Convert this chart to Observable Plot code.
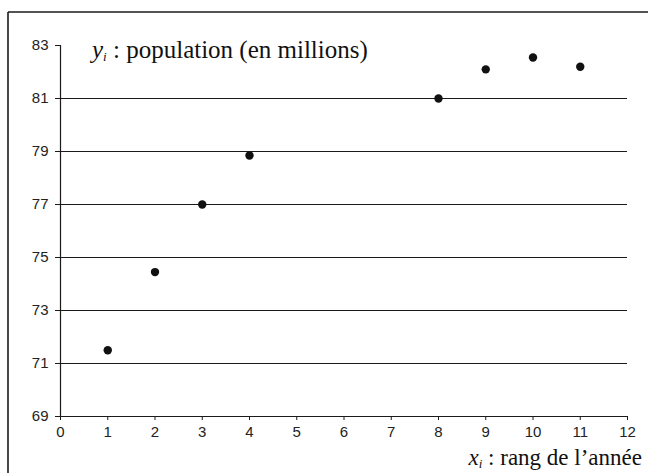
<!DOCTYPE html>
<html><head><meta charset="utf-8">
<script src="https://cdn.jsdelivr.net/npm/d3@7"></script>
<script src="https://cdn.jsdelivr.net/npm/@observablehq/plot@0.6"></script>
<style>body{margin:0;background:#fff}</style>
</head><body><div id="chart"></div>
<script>
const years = [1, 2, 3, 4, 8, 9, 10, 11];
const population = [71.5, 74.45, 77.0, 78.85, 81.0, 82.1, 82.55, 82.2];
const xTicks = [0, 1, 2, 3, 4, 5, 6, 7, 8, 9, 10, 11, 12];
const yTicks = [69, 71, 73, 75, 77, 79, 81, 83];
const gridValues = [71, 73, 75, 77, 79, 81];
const yVar = "y", xVar = "x", sub = "i";
const yLabel = " : population (en millions)";
const xLabel = " : rang de l\u2019ann\u00e9e";

const data = years.map((x, i) => ({x, y: population[i]}));

const chart = Plot.plot({
  width: 648, height: 473,
  marginLeft: 60, marginRight: 21, marginTop: 45, marginBottom: 57,
  x: {domain: [0, 12]},
  y: {domain: [69, 83]},
  style: {fontFamily: "'Liberation Sans', Arial, sans-serif", fontSize: "15px", color: "#222", background: "#fff"},
  marks: [
    Plot.ruleY(gridValues, {stroke: "#1a1a1a", strokeWidth: 1.2}),
    Plot.ruleY([69], {stroke: "#1a1a1a", strokeWidth: 1.2}),
    Plot.ruleX([0], {stroke: "#1a1a1a", strokeWidth: 1.2}),
    Plot.axisX({ticks: xTicks, tickSize: 4, tickPadding: 6, label: null, stroke: "#1a1a1a", fill: "#222"}),
    Plot.axisY({ticks: yTicks, tickSize: 5, tickPadding: 7, label: null, stroke: "#1a1a1a", fill: "#222"}),
    Plot.dot(data, {x: "x", y: "y", r: 4.2, fill: "#111", stroke: "none"})
  ]
});
document.getElementById("chart").appendChild(chart);

const svg = d3.select(chart);
// outer frame (top and left edges)
svg.append("line").attr("x1", 8).attr("y1", 12).attr("x2", 648).attr("y2", 12).attr("stroke", "#1a1a1a").attr("stroke-width", 1.6);
svg.append("line").attr("x1", 8).attr("y1", 12).attr("x2", 8).attr("y2", 473).attr("stroke", "#1a1a1a").attr("stroke-width", 1.6);

function label(x, y, v, rest, anchor, size) {
  const t = svg.append("text").attr("x", x).attr("y", y)
    .attr("text-anchor", anchor)
    .style("font-family", "'Liberation Serif', 'Times New Roman', serif")
    .style("font-size", size + "px").attr("fill", "#111");
  t.append("tspan").style("font-style", "italic").text(v);
  t.append("tspan").attr("dy", 3).style("font-size", "13px").style("font-style", "italic").text(sub);
  t.append("tspan").attr("dy", -3).text(rest);
}
label(92, 58, yVar, yLabel, "start", 25);
label(642, 465, xVar, xLabel, "end", 23);
</script>
</body></html>
